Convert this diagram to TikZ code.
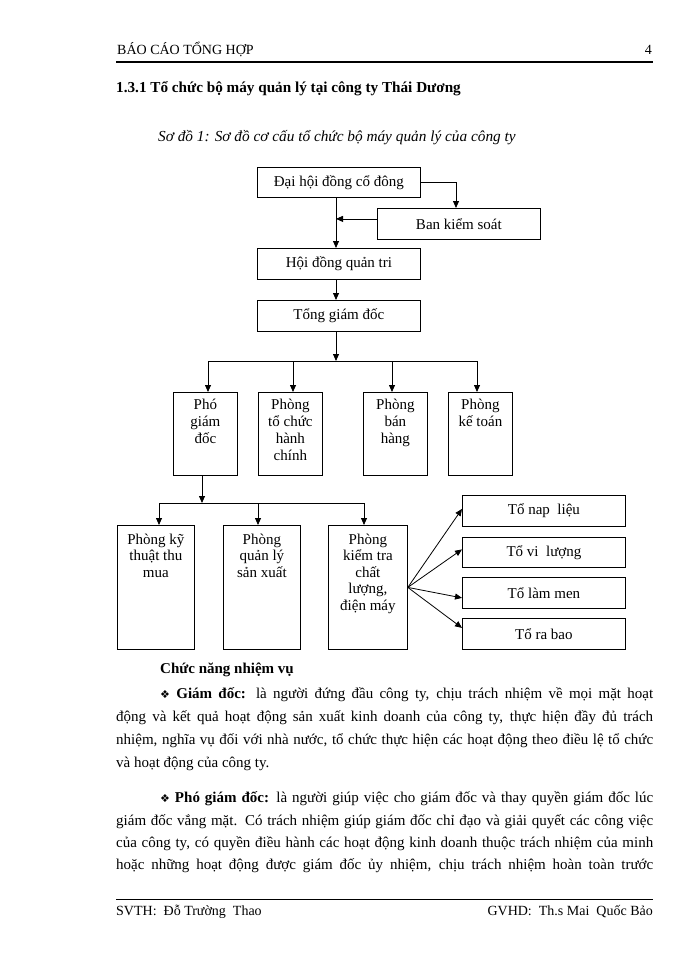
\documentclass[tikz,border=0pt]{standalone}
\usepackage{fontspec}
\setmainfont{Liberation Serif}
\newfontfamily\symfont{DejaVu Sans}
\usetikzlibrary{arrows.meta}
\newcommand\jline[2]{\makebox[#1][s]{#2}}
\begin{document}
\begin{tikzpicture}[x=1pt,y=-1pt,
  box/.style={draw, line width=0.8pt, inner sep=0pt, anchor=north west, font=\fontsize{15}{17}\selectfont},
  lbl/.style={inner sep=0pt, anchor=north, align=center, font=\fontsize{15}{17}\selectfont},
  arr/.style={line width=0.8pt, -{Triangle[length=7pt,width=6pt]}},
  ln/.style={line width=0.8pt},
  txt/.style={inner sep=0pt, anchor=base west, font=\fontsize{15}{17}\selectfont},
  txtr/.style={inner sep=0pt, anchor=base east, font=\fontsize{14}{17}\selectfont}]
\fill[white] (0,0) rectangle (700,960);
\useasboundingbox (0,0) rectangle (700,960);

% header
\node[txt, font=\fontsize{14}{17}\selectfont] (h1) at (117,55) {BÁO CÁO TỔNG HỢP};
\node[txtr] (h2) at (652,55) {4};
\draw[line width=1.2pt] (116,62) -- (653,62);
\node[txt, font=\fontsize{15.2}{17}\selectfont\bfseries] (title) at (116,93) {1.3.1 Tổ chức bộ máy quản lý tại công ty Thái Dương};
\node[txt, font=\fontsize{15.3}{17}\selectfont\itshape] (cap) at (158,142) {Sơ đồ 1: Sơ đồ cơ cấu tổ chức bộ máy quản lý của công ty};

% top chain
\node[box, minimum width=163pt, minimum height=30pt] (dh) at (257,167) {Đại hội đồng cổ đông};
\node[box, minimum width=163pt, minimum height=31pt] (bks) at (377,208) {Ban kiểm soát};
\node[box, minimum width=163pt, minimum height=31pt] (hd) at (257,248) {Hội đồng quản tri};
\node[box, minimum width=163pt, minimum height=31pt] (tg) at (257,300) {Tổng giám đốc};
\coordinate (mx) at (336,0);
\coordinate (bx) at (456,0);
\draw[arr] (dh.south -| mx) -- (hd.north -| mx);
\draw[arr] ([yshift=5pt]bks.west) -- ([yshift=5pt]bks.west -| mx);
\draw[arr] (dh.east) -| (bks.north -| bx);
\draw[arr] (hd.south -| mx) -- (tg.north -| mx);

% second row
\node[box, minimum width=64pt, minimum height=83pt] (pgd) at (173,392) {};
\node[box, minimum width=64pt, minimum height=83pt] (tchc) at (258,392) {};
\node[box, minimum width=64pt, minimum height=83pt] (bh) at (363,392) {};
\node[box, minimum width=64pt, minimum height=83pt] (kt) at (448,392) {};
\node[lbl] (pgdl) at ([yshift=-6pt]pgd.north) {\rule{0pt}{11pt}Phó\\giám\\đốc};
\node[lbl] (tchcl) at ([yshift=-6pt]tchc.north) {\rule{0pt}{11pt}Phòng\\tổ chức\\hành\\chính};
\node[lbl] (bhl) at ([yshift=-6pt]bh.north) {\rule{0pt}{11pt}Phòng\\bán\\hàng};
\node[lbl] (ktl) at ([yshift=-6pt]kt.north) {\rule{0pt}{11pt}Phòng\\kế toán};
\coordinate (b1) at (336,361);
\draw[arr] (tg.south -| mx) -- (b1);
\draw[ln] (208,361) -- (477,361);
\draw[arr] (208,361) -- (pgd.north -| 208,0);
\draw[arr] (293,361) -- (tchc.north -| 293,0);
\draw[arr] (392,361) -- (bh.north -| 392,0);
\draw[arr] (477,361) -- (kt.north -| 477,0);

% third row
\node[box, minimum width=77pt, minimum height=124pt] (ktm) at (117,525) {};
\node[box, minimum width=77pt, minimum height=124pt] (qlsx) at (223,525) {};
\node[box, minimum width=79pt, minimum height=124pt] (ktcl) at (328,525) {};
\node[lbl, font=\fontsize{15}{16.5}\selectfont] (ktml) at ([yshift=-8pt]ktm.north) {\rule{0pt}{11pt}Phòng kỹ\\thuật thu\\mua};
\node[lbl, font=\fontsize{15}{16.5}\selectfont] (qlsxl) at ([yshift=-8pt]qlsx.north) {\rule{0pt}{11pt}Phòng\\quản lý\\sản xuất};
\node[lbl, font=\fontsize{15}{16.5}\selectfont] (ktcll) at ([yshift=-8pt]ktcl.north) {\rule{0pt}{11pt}Phòng\\kiểm tra\\chất\\lượng,\\điện máy};
\coordinate (b2) at (202,503);
\draw[arr] (pgd.south -| b2) -- (b2);
\draw[ln] (159,503) -- (364,503);
\draw[arr] (159,503) -- (ktm.north -| 159,0);
\draw[arr] (258,503) -- (qlsx.north -| 258,0);
\draw[arr] (364,503) -- (ktcl.north -| 364,0);

% teams
\node[box, minimum width=163pt, minimum height=31pt] (t1) at (462,495) {Tổ nap\ \ liệu};
\node[box, minimum width=163pt, minimum height=30pt] (t2) at (462,537) {Tổ vi\ \ lượng};
\node[box, minimum width=163pt, minimum height=31pt] (t3) at (462,577) {Tổ làm men};
\node[box, minimum width=163pt, minimum height=31pt] (t4) at (462,618) {Tổ ra bao};
\draw[arr] (ktcl.east) -- ([yshift=2pt]t1.west);
\draw[arr] (ktcl.east) -- ([yshift=3pt]t2.west);
\draw[arr] (ktcl.east) -- ([yshift=-5pt]t3.west);
\draw[arr] (ktcl.east) -- ([yshift=6pt]t4.west);

% text
\node[txt, font=\fontsize{15}{17}\selectfont\bfseries] (cn) at (160,673) {Chức năng nhiệm vụ};
\node[txt] (p1a) at (160,698) {\jline{493pt}{{\symfont\fontsize{11}{11}\selectfont ❖} \textbf{Giám đốc:} là người đứng đầu công ty, chịu trách nhiệm về mọi mặt hoạt}};
\node[txt] (p1b) at (116,721) {\jline{537pt}{động và kết quả hoạt động sản xuất kinh doanh của công ty, thực hiện đầy đủ trách}};
\node[txt] (p1c) at (116,744) {\jline{537pt}{nhiệm, nghĩa vụ đối với nhà nước, tổ chức thực hiện các hoạt động theo điều lệ tổ chức}};
\node[txt] (p1d) at (116,767) {và hoạt động của công ty.};
\node[txt] (p2a) at (160,802) {\jline{493pt}{{\symfont\fontsize{11}{11}\selectfont ❖} \textbf{Phó giám đốc:} là người giúp việc cho giám đốc và thay quyền giám đốc lúc}};
\node[txt] (p2b) at (116,825) {\jline{537pt}{giám đốc vắng mặt. Có trách nhiệm giúp giám đốc chỉ đạo và giải quyết các công việc}};
\node[txt] (p2c) at (116,847) {\jline{537pt}{của công ty, có quyền điều hành các hoạt động kinh doanh thuộc trách nhiệm của minh}};
\node[txt] (p2d) at (116,869) {\jline{537pt}{hoặc những hoạt động được giám đốc ủy nhiệm, chịu trách nhiệm hoàn toàn trước}};

% footer
\draw[ln] (116,899) -- (653,899);
\node[txt, font=\fontsize{14}{17}\selectfont] (f1) at (116,915) {SVTH:\ \ Đỗ Trường\ \ Thao};
\node[txtr] (f2) at (653,915) {GVHD:\ \ Th.s Mai\ \ Quốc Bảo};
\end{tikzpicture}
\end{document}
